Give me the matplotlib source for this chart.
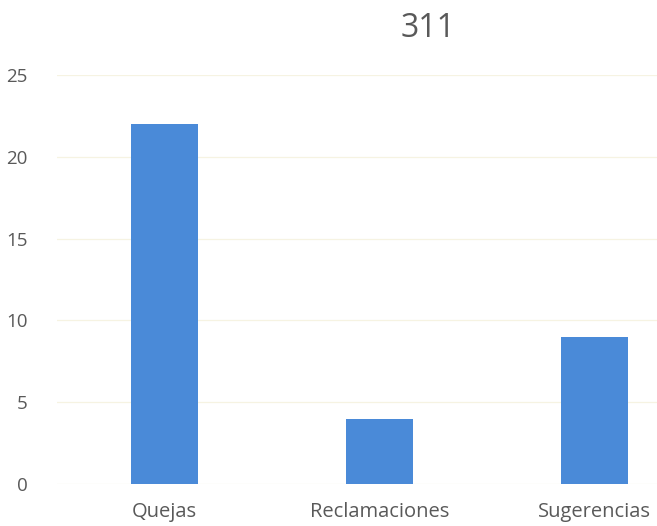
import matplotlib.pyplot as plt

categories = ['Quejas', 'Reclamaciones', 'Sugerencias']
values = [22, 4, 9]
y_ticks = [0, 5, 10, 15, 20, 25]
title = '311'

plt.rcParams['font.family'] = ['Open Sans', 'DejaVu Sans']

fig = plt.figure(figsize=(6.57, 5.26), dpi=100)
ax = fig.add_axes([57 / 657, 42 / 526, 600 / 657, 409 / 526])

x = range(len(categories))
ax.bar(x, values, width=0.31, color='#4a8ad8', zorder=2)

ax.set_xlim(-0.5, 2.29)
ax.set_ylim(0, 25)
ax.set_yticks(y_ticks)
ax.set_xticks(list(x))
ax.set_xticklabels(categories)

ax.grid(axis='y', color='#f6f3e2', linewidth=0.9, zorder=0)
for side in ['top', 'right', 'left', 'bottom']:
    ax.spines[side].set_visible(False)
ax.tick_params(axis='both', length=0, colors='#595959')
ax.tick_params(axis='y', pad=21, labelsize=13.5)
ax.tick_params(axis='x', pad=13, labelsize=14.5)

fig.text(428 / 657, 0.945, title, ha='center', va='center',
         fontsize=23, color='#595959')

fig.savefig('out.png', dpi=100, facecolor='white')
